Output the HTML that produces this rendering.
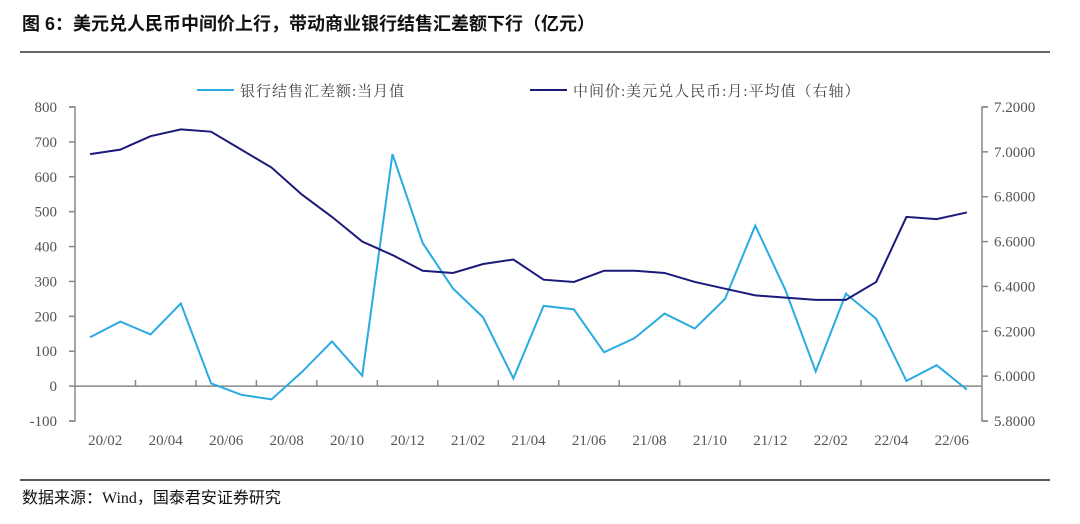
<!DOCTYPE html>
<html><head><meta charset="utf-8"><style>
body{margin:0;background:#fff;width:1080px;height:519px;overflow:hidden}
svg text{font-family:"Liberation Serif","Noto Serif CJK SC",serif}
</style></head><body>
<svg width="1080" height="519">
<text x="22" y="30" font-size="18" font-weight="bold" fill="#111" style="font-family:'Liberation Sans','Noto Sans CJK SC',sans-serif">图 6：美元兑人民币中间价上行，带动商业银行结售汇差额下行（亿元）</text>
<line x1="20" y1="52" x2="1050" y2="52" stroke="#333" stroke-width="1.5"/>
<line x1="20" y1="480" x2="1050" y2="480" stroke="#222" stroke-width="1.5"/>
<text x="22" y="503" font-size="16" fill="#111" style="font-family:'Liberation Serif','Noto Sans CJK SC',serif">数据来源：Wind，国泰君安证券研究</text>
<g id="plot"></g>
</svg>
<script>
const categories=["20/02","20/03","20/04","20/05","20/06","20/07","20/08","20/09","20/10","20/11","20/12","21/01","21/02","21/03","21/04","21/05","21/06","21/07","21/08","21/09","21/10","21/11","21/12","22/01","22/02","22/03","22/04","22/05","22/06","22/07"];
const fxSettlement=[140,185,148,237,8,-25,-38,40,128,30,665,410,280,197,22,230,220,97,137,208,165,250,460,275,42,265,193,15,60,-10];
const usdCnyMid=[6.99,7.01,7.07,7.10,7.09,7.01,6.93,6.81,6.71,6.60,6.54,6.47,6.46,6.50,6.52,6.43,6.42,6.47,6.47,6.46,6.42,6.39,6.36,6.35,6.34,6.34,6.42,6.71,6.70,6.73];
const leftTicks=[-100,0,100,200,300,400,500,600,700,800];
const rightTicks=[5.8,6.0,6.2,6.4,6.6,6.8,7.0,7.2];
const NS="http://www.w3.org/2000/svg";
const g=document.getElementById('plot');
const X0=75,X1=982,Y0=421,Y1=107;
const bw=(X1-X0)/categories.length;
const xs=i=>X0+bw*(i+0.5);
const yL=v=>Y0-(v+100)/900*(Y0-Y1);
const yR=v=>Y0-(v-5.8)/1.4*(Y0-Y1);
function el(t,a){const e=document.createElementNS(NS,t);for(const k in a)e.setAttribute(k,a[k]);g.appendChild(e);return e;}
const ax=el('path',{d:`M${X0-6},${Y1}H${X0}V${Y0}H${X0-6}`,stroke:'#888',fill:'none','stroke-width':1.5});


leftTicks.forEach(v=>{
 const l=el('line',{x1:X0-6,x2:X0,y1:yL(v),y2:yL(v),stroke:'#888','stroke-width':1.5});
 
 
 const t=el('text',{x:X0-18,y:yL(v)+5,'text-anchor':'end','font-size':15,fill:'#555'});t.textContent=v;
 
 
});
const ar=el('path',{d:`M${X1+6},${Y1}H${X1}V${Y0}H${X1+6}`,stroke:'#888',fill:'none','stroke-width':1.5});


rightTicks.forEach(v=>{
 const l=el('line',{x1:X1,x2:X1+6,y1:yR(v),y2:yR(v),stroke:'#888','stroke-width':1.5});
 
 
 const t=el('text',{x:X1+12,y:yR(v)+5,'font-size':15,fill:'#555'});t.textContent=v.toFixed(4);
 
 
});
const xa=el('line',{x1:X0,x2:X1,y1:yL(0),y2:yL(0),stroke:'#888','stroke-width':1.5});


categories.forEach((c,i)=>{
 if(i%2==0){
  if(i>0){const l=el('line',{x1:X0+bw*i,x2:X0+bw*i,y1:yL(0),y2:yL(0)-6,stroke:'#888','stroke-width':1.5});
  
  }
  const t=el('text',{x:X0+bw*(i+1),y:445,'text-anchor':'middle','font-size':15,fill:'#555'});t.textContent=c;
  
  
 }
});
const p1=el('polyline',{points:fxSettlement.map((v,i)=>xs(i)+','+yL(v)).join(' '),fill:'none',stroke:'#29abe2','stroke-width':2});


const p2=el('polyline',{points:usdCnyMid.map((v,i)=>xs(i)+','+yR(v)).join(' '),fill:'none',stroke:'#1a1a7a','stroke-width':2});


const lg=[[197,'#29abe2','银行结售汇差额:当月值'],[530,'#1a1a7a','中间价:美元兑人民币:月:平均值（右轴）']];
lg.forEach(([x,c,s])=>{
 const l=el('line',{x1:x,x2:x+37,y1:90,y2:90,stroke:c,'stroke-width':2});
 
 
 const t=el('text',{x:x+43,y:96,'font-size':15,fill:'#444','letter-spacing':'1'});t.textContent=s;
 
 
});
</script>
</body></html>
